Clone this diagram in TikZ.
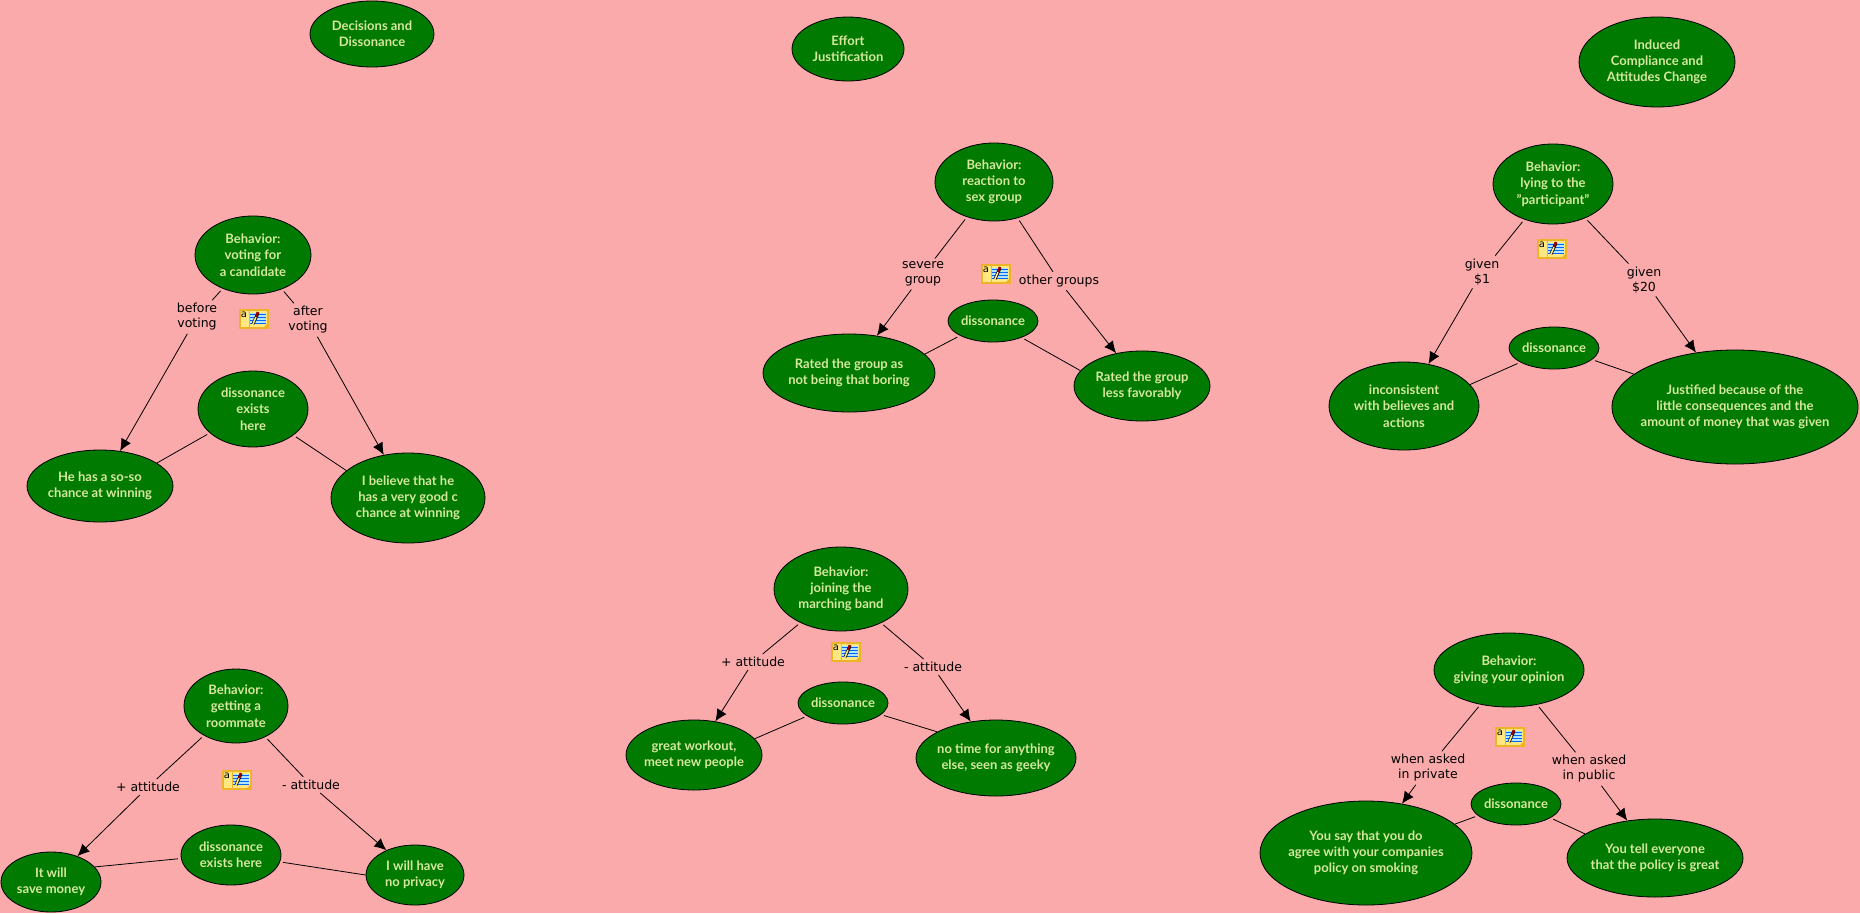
\documentclass[tikz,border=0pt]{standalone}
\usepackage{fontspec}
\setmainfont{Lato}
\newfontfamily\labelfont{DejaVu Sans}
\usetikzlibrary{shapes.geometric,arrows.meta}

\definecolor{mapback}{RGB}{250,170,170}
\definecolor{mapgreen}{RGB}{0,122,0}
\definecolor{maptext}{RGB}{214,232,160}
\definecolor{noteyellow}{RGB}{255,232,130}
\definecolor{noteedge}{RGB}{238,180,40}

\tikzset{
    concept/.style 2 args={ellipse,draw=black,line width=0.8pt,fill=mapgreen,text=maptext,
        minimum width=#1pt,minimum height=#2pt,inner xsep=-30pt,inner ysep=-12pt,align=center,
        font=\bfseries\fontsize{13}{16.3}\selectfont},
    linker/.style={inner sep=3pt,yshift=-2pt,align=center,text=black,
        font=\labelfont\fontsize{12.5}{15}\selectfont},
    wire/.style={line width=0.8pt,draw=black},
    wirehead/.style={wire,-{Latex[length=12pt,width=11pt]}},
    noteicon/.pic={
        \draw[noteedge,line width=1.2pt,fill=noteyellow] (-14,-9) rectangle (14,9);
        \fill[white!70!cyan] (-4,-6) rectangle (12,5);
        \foreach \y in {-5,-2,1,4}
        {
            \draw[blue!60!cyan,line width=0.6pt] (-4,\y) -- (12,\y);
        }
        \draw[noteedge,line width=0.6pt] (-5,-9) -- (-5,9);
        \fill[noteedge] (14,4) -- (14,9) -- (9,9) -- cycle;
        \draw[black,line width=3pt] (-1,5) -- (4,-6);
        \draw[noteyellow,line width=1.6pt] (-1,5) -- (2,-2);
        \draw[red!60!black,line width=2.4pt] (2,-2) -- (4,-7);
        \node[inner sep=0pt,font=\labelfont\fontsize{10}{10}\selectfont] at (-10,-4) {a};
    }
}

\begin{document}
\begin{tikzpicture}[x=1pt,y=-1pt]

\useasboundingbox (0,0) rectangle (1860,913);
\fill[mapback] (0,0) rectangle (1860,913);

% titles
\node[concept={124}{66}] (decide) at (372,34) {Decisions and\\Dissonance};
\node[concept={112}{64}] (effort) at (848,49) {Effort\\Justification};
\node[concept={156}{90}] (induced) at (1657,62) {Induced\\Compliance and\\Attitudes Change};

% voting
\node[concept={116}{78}] (voting) at (253,255) {Behavior:\\voting for\\a candidate};
\node[concept={110}{76}] (votediss) at (253,409) {dissonance\\exists\\here};
\node[concept={146}{72}] (soso) at (100,486) {He has a so-so\\chance at winning};
\node[concept={154}{90}] (verygood) at (408,498) {I believe that he\\has a very good c\\chance at winning};
\node[linker] (before) at (197,315) {before\\voting};
\node[linker] (after) at (308,318) {after\\voting};

% roommate
\node[concept={104}{74}] (roommate) at (236,706) {Behavior:\\getting a\\roommate};
\node[concept={100}{60}] (roomdiss) at (231,855) {dissonance\\exists here};
\node[concept={100}{60}] (savemoney) at (51,882) {It will\\save money};
\node[concept={98}{60}] (noprivacy) at (415,875) {I will have\\no privacy};
\node[linker] (roomplus) at (148,785) {+ attitude};
\node[linker] (roomminus) at (311,783) {- attitude};

% sex group
\node[concept={118}{78}] (sexgroup) at (994,182) {Behavior:\\reaction to\\sex group};
\node[concept={90}{42}] (sexdiss) at (993,321) {dissonance};
\node[concept={172}{78}] (boring) at (849,373) {Rated the group as\\not being that boring};
\node[concept={136}{70}] (favor) at (1142,386) {Rated the group\\less favorably};
\node[linker] (severe) at (923,272) {severe\\group};
\node[linker] (others) at (1059,279) {other groups};

% marching band
\node[concept={134}{84}] (band) at (841,589) {Behavior:\\joining the\\marching band};
\node[concept={90}{42}] (banddiss) at (843,703) {dissonance};
\node[concept={136}{70}] (workout) at (694,755) {great workout,\\meet new people};
\node[concept={160}{76}] (geeky) at (996,758) {no time for anything\\else, seen as geeky};
\node[linker] (bandplus) at (753,660) {+ attitude};
\node[linker] (bandminus) at (933,665) {- attitude};

% lying
\node[concept={120}{80}] (lying) at (1553,184) {Behavior:\\lying to the\\"participant"};
\node[concept={90}{42}] (lyingdiss) at (1554,348) {dissonance};
\node[concept={150}{88}] (inconsist) at (1404,406) {inconsistent\\with believes and\\actions};
\node[concept={246}{114}] (justified) at (1735,407) {Justified because of the\\little consequences and the\\amount of money that was given};
\node[linker] (oneusd) at (1482,270) {given\\\$1};
\node[linker] (twentyusd) at (1644,278) {given\\\$20};

% opinion
\node[concept={150}{74}] (opinion) at (1509,670) {Behavior:\\giving your opinion};
\node[concept={90}{42}] (opindiss) at (1516,804) {dissonance};
\node[concept={212}{104}] (sayagree) at (1366,853) {You say that you do\\agree with your companies\\policy on smoking};
\node[concept={176}{78}] (telleveryone) at (1655,858) {You tell everyone\\that the policy is great};
\node[linker] (private) at (1428,766) {when asked\\in private};
\node[linker] (public) at (1589,767) {when asked\\in public};

% behavior to linking phrase to result
\foreach \a/\b/\c in {voting/before/soso,voting/after/verygood,
    roommate/roomplus/savemoney,roommate/roomminus/noprivacy,
    sexgroup/severe/boring,sexgroup/others/favor,
    band/bandplus/workout,band/bandminus/geeky,
    lying/oneusd/inconsist,lying/twentyusd/justified,
    opinion/private/sayagree,opinion/public/telleveryone}
{
    \draw[wire,shorten <=3pt] (\a) -- (\b);
    \draw[wirehead] (\b) -- (\c);
}

% dissonance to both results
\foreach \a/\m/\b/\n in {votediss/209/soso/22,votediss/327/verygood/156,
    roomdiss/184/savemoney/19,roomdiss/352/noprivacy/180,
    sexdiss/204/boring/14,sexdiss/330/favor/166,
    banddiss/200/workout/15,banddiss/343/geeky/156,
    lyingdiss/203/inconsist/18,lyingdiss/343/justified/162,
    opindiss/197/sayagree/18,opindiss/338/telleveryone/161}
{
    \draw[wire,shorten <=3pt] (\a.\m) -- (\b.\n);
}

% notes
\foreach \x/\y in {254/319,237/780,996/274,846/652,1552/249,1510/737}
{
    \pic at (\x,\y) {noteicon};
}

\end{tikzpicture}
\end{document}
